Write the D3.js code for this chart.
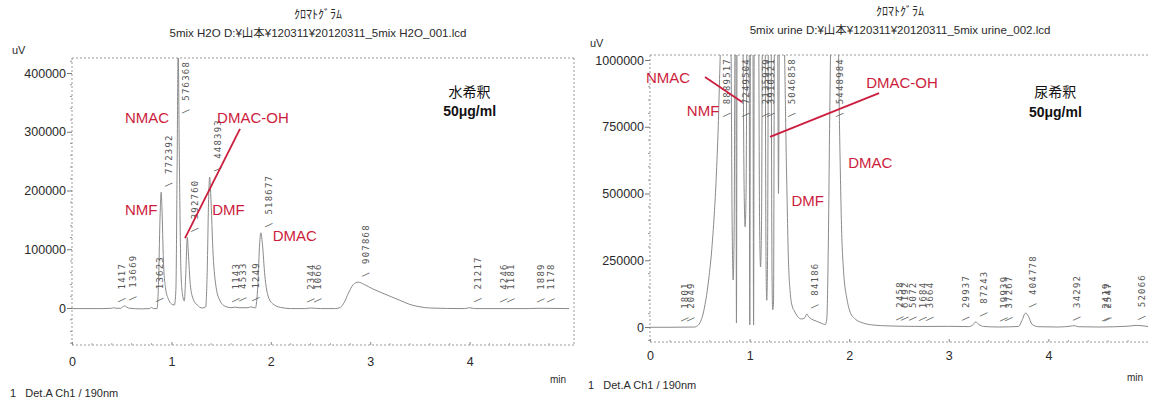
<!DOCTYPE html>
<html><head><meta charset="utf-8">
<script src="https://cdnjs.cloudflare.com/ajax/libs/d3/7.8.5/d3.min.js"></script>
<style>
body{margin:0;background:#fff;}
svg{display:block;font-family:"Liberation Sans",Arial,sans-serif;}
</style></head><body>
<svg id="chart" width="1149" height="400"></svg>
<script>
// ---------- DATA ----------
const chartTitle = "ｸﾛﾏﾄｸﾞﾗﾑ";
const leftSubtitle = "5mix H2O D:¥山本¥120311¥20120311_5mix H2O_001.lcd";
const rightSubtitle = "5mix urine D:¥山本¥120311¥20120311_5mix urine_002.lcd";
const detectorText = "1   Det.A Ch1 / 190nm";
const xTicks = [0, 1, 2, 3, 4];
const leftYTicks = [0, 100000, 200000, 300000, 400000];
const rightYTicks = [0, 250000, 500000, 750000, 1000000];

// left chromatogram (water dilution): time (min), signal (uV)
const leftTimes = [0.00,0.30,0.40,0.42,0.44,0.49,0.51,0.53,0.55,0.58,0.70,0.78,0.80,0.82,0.855,0.87,0.885,0.897,0.905,0.92,0.94,0.97,1.00,1.03,1.045,1.058,1.068,1.08,1.095,1.11,1.13,1.145,1.16,1.17,1.19,1.22,1.26,1.31,1.345,1.36,1.375,1.385,1.395,1.42,1.45,1.49,1.54,1.60,1.64,1.68,1.77,1.80,1.845,1.87,1.888,1.90,1.915,1.94,1.97,2.02,2.10,2.20,2.35,2.40,2.50,2.65,2.70,2.74,2.78,2.83,2.88,2.94,3.02,3.10,3.20,3.30,3.40,3.50,3.60,3.95,4.00,4.05,4.60,4.70,5.00];
const leftValues = [-1000,-1000,-500,500,-500,-500,2000,3500,1500,-500,-1500,-1000,1000,-1000,-1000,40000,150000,197000,170000,80000,35000,15000,7000,5000,30000,250000,440000,250000,70000,25000,12000,60000,120000,95000,40000,15000,5000,0,2000,60000,190000,223000,195000,90000,35000,12000,3000,500,1500,500,500,2000,0,40000,110000,128000,110000,55000,22000,7000,1000,-1000,-1000,0,-1000,-1000,1000,10000,25000,40000,44000,40000,33000,27000,20000,13000,6000,2000,0,-1000,500,-1000,-1000,-500,-1000];

// right chromatogram (urine dilution)
const rightTimes = [0.00,0.20,0.45,0.47,0.50,0.53,0.56,0.59,0.62,0.645,0.665,0.685,0.70,0.72,0.81,0.825,0.835,0.845,0.855,0.862,0.868,0.875,0.93,0.945,0.955,0.965,0.975,0.995,1.002,1.009,1.033,1.040,1.047,1.09,1.10,1.11,1.12,1.13,1.155,1.165,1.172,1.18,1.19,1.215,1.225,1.232,1.24,1.25,1.28,1.29,1.30,1.34,1.37,1.39,1.41,1.43,1.45,1.48,1.52,1.555,1.575,1.59,1.62,1.67,1.72,1.76,1.775,1.79,1.805,1.82,1.885,1.905,1.925,1.945,1.975,2.01,2.06,2.14,2.25,2.40,2.60,2.80,3.00,3.20,3.24,3.27,3.30,3.35,3.50,3.70,3.735,3.77,3.80,3.835,3.90,4.10,4.22,4.26,4.30,4.50,4.80,4.88,4.93,5.00];
const rightValues = [-1000,-1000,0,3000,15000,45000,100000,180000,290000,420000,560000,750000,950000,1150000,1150000,380000,176000,380000,1150000,1150000,15000,1150000,1150000,520000,375000,520000,1150000,1150000,8000,1150000,1150000,8000,1150000,1150000,400000,225000,400000,1150000,1150000,250000,100000,250000,1150000,1150000,200000,64000,90000,1150000,1150000,500000,1150000,1150000,600000,250000,120000,75000,60000,40000,30000,35000,49000,40000,30000,22000,14000,9000,30000,300000,800000,1150000,1150000,700000,350000,200000,110000,55000,30000,15000,7000,4000,2500,2000,2500,1500,7000,19000,10000,2000,0,2000,25000,52000,40000,10000,1000,0,3000,5000,1000,0,3000,6000,5000,2000];

// peak integration labels
const leftPeakTimes   = [0.42,0.53,0.80,0.897,1.068,1.16,1.385,1.57,1.64,1.77,1.90,2.32,2.39,2.88,4.00,4.27,4.34,4.64,4.74];
const leftPeakLabels  = ["1417","13669","13623","772392","576368","392760","448393","1143","4533","1249","518677","2344","1066","907868","21217","4246","1181","1889","1178"];
const leftPeakHeights = [500,3500,1000,197000,440000,120000,223000,500,1500,2000,128000,0,0,44000,500,0,0,0,0];

const rightPeakTimes   = [0.27,0.33,0.69,0.88,1.08,1.13,1.35,1.575,1.83,2.43,2.48,2.56,2.66,2.73,3.09,3.27,3.47,3.52,3.77,4.21,4.50,4.52,4.86];
const rightPeakLabels  = ["1801","2049","8889517","7249504","2135979","3910321","5046858","84186","5448984","2458","6192","5072","1684","3664","29937","87243","19939","37267","404778","34292","2419","2547","52066"];
const rightPeakHeights = [0,0,1150000,1150000,1150000,1150000,1150000,49000,1150000,4000,3000,2500,2000,2000,2500,19000,0,1000,52000,3000,0,0,6000];

// compound annotations (anchored in data units: time, uV)
const leftCompounds = ["NMAC","DMAC-OH","NMF","DMF","DMAC"];
const leftCompoundT = [0.533,1.46,0.533,1.41,2.02];
const leftCompoundV = [315000,315000,158000,158000,114000];
const leftPointerT = [1.137,1.69];
const leftPointerV = [119000,305000];
const leftNote = ["水希釈","50μg/ml"];
const leftNoteT = [4.0,4.0];
const leftNoteV = [359000,327000];

const rightCompounds = ["NMAC","NMF","DMAC-OH","DMF","DMAC"];
const rightCompoundT = [-0.04,0.37,2.17,1.42,1.99];
const rightCompoundV = [914000,790000,895000,453000,595000];
const rightPointer1T = [0.552,0.924];
const rightPointer1V = [936000,843000];
const rightPointer2T = [1.205,2.30];
const rightPointer2V = [712000,876000];
const rightNote = ["尿希釈","50μg/ml"];
const rightNoteT = [4.07,4.07];
const rightNoteV = [861000,786000];

// ---------- DRAW ----------
const svg = d3.select("#chart");
const RED = "#cc1d3d";
const TRACE = "#8a8a8a";
const AXIS = "#9a9a9a";
const TXT = "#2a2a2a";

function panel(cfg) {
  const g = svg.append("g");
  const x = d3.scaleLinear().domain([0, 5]).range([cfg.x0, cfg.x0 + 5 * cfg.pxMin]);
  const y = d3.scaleLinear().domain([0, cfg.yTicks[cfg.yTicks.length - 1]]).range([cfg.y0, cfg.yTopTick]);
  const left = x(0), right = cfg.frameRight, top = cfg.frameTop, bottom = cfg.frameBottom;

  // titles
  g.append("text").attr("x", cfg.titleX).attr("y", cfg.titleY).attr("text-anchor", "middle")
    .attr("font-family", "'Noto Sans CJK JP',sans-serif").attr("font-size", 12).attr("fill", TXT).text(chartTitle);
  g.append("text").attr("x", cfg.titleX).attr("y", cfg.titleY + 18).attr("text-anchor", "middle")
    .attr("font-family", "'Liberation Sans','Noto Sans CJK JP',sans-serif").attr("font-size", 11.5).attr("fill", TXT).text(cfg.subtitle);
  g.append("text").attr("x", cfg.uvX).attr("y", cfg.uvY).attr("font-size", 11).attr("fill", TXT).text("uV");

  // frame (dotted)
  const dash = "2,2";
  g.append("line").attr("x1", left).attr("x2", right).attr("y1", top).attr("y2", top).attr("stroke", AXIS).attr("stroke-dasharray", dash);
  g.append("line").attr("x1", left).attr("x2", right).attr("y1", bottom).attr("y2", bottom).attr("stroke", AXIS).attr("stroke-dasharray", dash);
  g.append("line").attr("x1", left).attr("x2", left).attr("y1", top).attr("y2", bottom).attr("stroke", AXIS).attr("stroke-dasharray", dash);
  if (cfg.showRight) g.append("line").attr("x1", right).attr("x2", right).attr("y1", top).attr("y2", bottom).attr("stroke", AXIS).attr("stroke-dasharray", dash);

  // y axis
  const yAxis = d3.axisLeft(y).tickValues(cfg.yTicks).tickSize(5).tickFormat(d3.format("d"));
  const ya = g.append("g").attr("transform", `translate(${left},0)`).call(yAxis);
  ya.select(".domain").remove();
  ya.selectAll("line").attr("stroke", "#777");
  ya.selectAll("text").attr("font-size", 12.5).attr("fill", TXT).attr("font-family", "'Liberation Sans',Arial,sans-serif").attr("x", -6);
  const step = cfg.yTicks[1] / 5;
  const minorY = d3.range(Math.ceil(y.invert(bottom) / step) * step, y.invert(top), step).filter(v => !cfg.yTicks.includes(v) && y(v) > top && y(v) < bottom);
  g.selectAll(null).data(minorY).join("line").attr("x1", left - 2).attr("x2", left).attr("y1", d => y(d)).attr("y2", d => y(d)).attr("stroke", "#999");

  // x axis
  const xa = g.append("g").attr("transform", `translate(0,${bottom})`)
    .call(d3.axisBottom(x).tickValues(xTicks).tickSize(3).tickFormat(d3.format("d")));
  xa.select(".domain").remove();
  xa.selectAll("line").attr("stroke", "#888").attr("y1", -3).attr("y2", 0);
  xa.selectAll("text").attr("font-size", 12.5).attr("fill", TXT).attr("y", cfg.xLabelDy).attr("font-family", "'Liberation Sans',Arial,sans-serif");
  const minorX = d3.range(0, 5.01, 0.2).filter(t => Math.abs(t - Math.round(t)) > 0.01 && x(t) < right);
  g.selectAll(null).data(minorX).join("line").attr("x1", d => x(d)).attr("x2", d => x(d)).attr("y1", bottom - 2).attr("y2", bottom).attr("stroke", "#aaa");
  g.append("text").attr("x", cfg.minX).attr("y", cfg.minY).attr("font-size", 10).attr("fill", TXT).text("min");
  g.append("text").attr("x", cfg.detX).attr("y", cfg.detY).attr("font-size", 11).attr("fill", TXT).attr("xml:space", "preserve").text(detectorText);

  // trace
  const clipId = "clip" + cfg.id;
  g.append("clipPath").attr("id", clipId).append("rect").attr("x", left).attr("y", top).attr("width", right - left).attr("height", bottom - top);
  const pts = cfg.times.map((t, i) => [t, cfg.values[i]]);
  const line = d3.line().x(d => x(d[0])).y(d => y(d[1])).curve(d3.curveMonotoneX);
  g.append("path").attr("clip-path", `url(#${clipId})`).attr("d", line(pts))
    .attr("fill", "none").attr("stroke", TRACE).attr("stroke-width", 1);

  // peak labels
  cfg.peakTimes.forEach((t, i) => {
    const txt = g.append("text").attr("font-size", 9).attr("letter-spacing", 1.2).attr("fill", "#555")
      .attr("font-family", "'DejaVu Sans Mono','Liberation Mono',monospace")
      .text("\\ " + cfg.peakLabels[i]);
    const len = txt.node().getComputedTextLength();
    let py = Math.min(y(cfg.peakHeights[i]), bottom) - 5;
    py = Math.max(py, top + len + 3);
    const px = x(t) + 11;
    txt.attr("transform", `translate(${px},${py}) rotate(-90)`);
  });

  return {g, x, y};
}

const L = panel({id: "L", x0: 72, pxMin: 99.4, y0: 308, yTopTick: 73, yTicks: leftYTicks,
  frameTop: 58, frameBottom: 345, frameRight: 574, showRight: true, xLabelDy: 12.5,
  titleX: 318, titleY: 19, subtitle: leftSubtitle, uvX: 12, uvY: 54,
  minX: 550, minY: 383, detX: 10, detY: 397,
  times: leftTimes, values: leftValues,
  peakTimes: leftPeakTimes, peakLabels: leftPeakLabels, peakHeights: leftPeakHeights});

const R = panel({id: "R", x0: 650, pxMin: 99.6, y0: 327, yTopTick: 60, yTicks: rightYTicks,
  frameTop: 55, frameBottom: 342, frameRight: 1149, showRight: false, xLabelDy: 9.5,
  titleX: 900, titleY: 16, subtitle: rightSubtitle, uvX: 590, uvY: 47,
  minX: 1127, minY: 381, detX: 588, detY: 389,
  times: rightTimes, values: rightValues,
  peakTimes: rightPeakTimes, peakLabels: rightPeakLabels, peakHeights: rightPeakHeights});

function annotate(P, names, ts, vs, pointers, notes, noteTs, noteVs) {
  names.forEach((n, i) => {
    P.g.append("text").attr("x", P.x(ts[i])).attr("y", P.y(vs[i])).attr("font-size", 15).attr("fill", RED).text(n);
  });
  pointers.forEach(([pt, pv]) => {
    P.g.append("path").attr("d", d3.line().x(d => P.x(d[0])).y(d => P.y(d[1]))(pt.map((t, i) => [t, pv[i]])))
      .attr("stroke", RED).attr("stroke-width", 1.8).attr("fill", "none");
  });
  notes.forEach((n, i) => {
    P.g.append("text").attr("x", P.x(noteTs[i])).attr("y", P.y(noteVs[i])).attr("text-anchor", "middle")
      .attr("font-family", i === 0 ? "'Noto Sans CJK JP',sans-serif" : "'Liberation Sans',Arial,sans-serif")
      .attr("font-weight", i === 0 ? "normal" : "bold").attr("font-size", 14).attr("fill", "#111").text(n);
  });
}
annotate(L, leftCompounds, leftCompoundT, leftCompoundV, [[leftPointerT, leftPointerV]], leftNote, leftNoteT, leftNoteV);
annotate(R, rightCompounds, rightCompoundT, rightCompoundV, [[rightPointer1T, rightPointer1V], [rightPointer2T, rightPointer2V]], rightNote, rightNoteT, rightNoteV);
</script>
</body></html>
